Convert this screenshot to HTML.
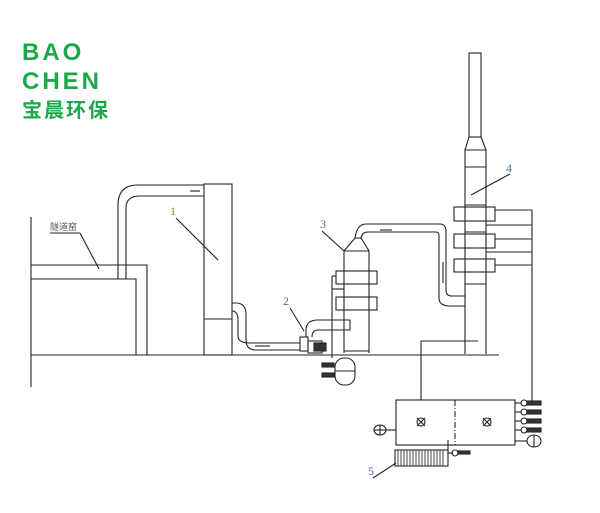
<!DOCTYPE html>
<html><head><meta charset="utf-8"><style>
body{margin:0;background:#fff;width:600px;height:513px;overflow:hidden;position:relative;font-family:"Liberation Sans","Noto Sans CJK SC",sans-serif}
.logo{position:absolute;left:22px;color:#1aa84a;font-weight:bold}
</style></head><body>
<div class="logo" style="top:41px;font-size:24px;line-height:24px;letter-spacing:3px">BAO</div>
<div class="logo" style="top:70px;font-size:24px;line-height:24px;letter-spacing:3px">CHEN</div>
<div class="logo" style="top:101px;font-size:20px;line-height:20px;letter-spacing:2px">宝晨环保</div>
<svg width="600" height="513" style="position:absolute;left:0;top:0" fill="none" stroke="#222" stroke-width="1.1">
<line x1="31" y1="217" x2="31" y2="387"/>
<line x1="31" y1="355" x2="499" y2="355"/>
<polyline points="31,265 147,265 147,355"/>
<polyline points="31,279 136,279 136,355"/>
<path d="M118,279 V205 Q118,185 138,185 H204"/>
<path d="M126,279 V208 Q126,196 140,196 H204"/>
<line x1="190" y1="191" x2="200" y2="191"/>
<rect x="204" y="184" width="28" height="171"/>
<line x1="204" y1="319" x2="232" y2="319"/>
<text x="170" y="215" font-size="12" fill="#b07a2a" stroke="none" font-family="Liberation Serif">1</text>
<line x1="176" y1="218" x2="218" y2="260"/>
<text x="50" y="230" font-size="9" fill="#555" stroke="none">隧道窑</text>
<line x1="50" y1="233" x2="80" y2="233"/>
<line x1="80" y1="233" x2="99" y2="269"/>
<path d="M232,303 H236 Q246,303 246,315 V340 Q246,350 256,350 H300"/>
<path d="M232,311 Q238,311 238,320 V336 Q238,343 250,343 H300"/>
<line x1="255" y1="346" x2="270" y2="346"/>
<rect x="300" y="337" width="8" height="14"/>
<rect x="308" y="341" width="14" height="12"/>
<rect x="314" y="343" width="12" height="8" fill="#333"/>
<path d="M306,337 V330 Q306,320 318,320 H350 V330 H318 Q312,330 312,337"/>
<text x="283" y="305" font-size="12" fill="#4a6fb0" stroke="none" font-family="Liberation Serif">2</text>
<line x1="290" y1="308" x2="304" y2="331"/>
<rect x="335" y="358" width="20" height="27" rx="9"/>
<line x1="335" y1="371" x2="355" y2="371"/>
<rect x="322" y="363" width="12" height="4" fill="#333"/>
<rect x="322" y="373" width="12" height="4" fill="#333"/>
<line x1="332" y1="276" x2="332" y2="358"/>
<line x1="332" y1="276" x2="336" y2="276"/>
<polyline points="344,353 344,251 355,238 361,238 369,251 369,353"/>
<line x1="344" y1="251" x2="369" y2="251"/>
<line x1="344" y1="351" x2="369" y2="351"/>
<rect x="336" y="271" width="41" height="13"/>
<rect x="336" y="297" width="41" height="13"/>
<line x1="332" y1="289" x2="344" y2="289"/>
<text x="320" y="228" font-size="12" fill="#4a6fb0" stroke="none" font-family="Liberation Serif">3</text>
<line x1="322" y1="231" x2="344" y2="251"/>
<path d="M355,238 Q357,224 366,224 H440 Q446,224 446,232 V290 Q446,296 452,296 H465"/>
<path d="M361,238 Q362,232 368,232 H436 Q439,232 439,236 V298 Q439,306 450,306 H465"/>
<line x1="380" y1="230" x2="392" y2="230"/>
<line x1="443" y1="262" x2="443" y2="283"/>
<rect x="469" y="53" width="12" height="84"/>
<polyline points="469,137 465,150 465,354"/>
<polyline points="481,137 486,150 486,354"/>
<line x1="465" y1="150" x2="486" y2="150"/>
<line x1="465" y1="167" x2="486" y2="167"/>
<line x1="465" y1="205" x2="486" y2="205"/>
<line x1="465" y1="232" x2="486" y2="232"/>
<line x1="465" y1="284" x2="486" y2="284"/>
<rect x="454" y="207" width="41" height="14"/>
<rect x="454" y="234" width="41" height="14"/>
<rect x="454" y="259" width="41" height="13"/>
<line x1="532" y1="210" x2="532" y2="403"/>
<line x1="495" y1="210" x2="532" y2="210"/>
<line x1="486" y1="225" x2="532" y2="225"/>
<line x1="495" y1="239" x2="532" y2="239"/>
<line x1="486" y1="252" x2="532" y2="252"/>
<line x1="495" y1="265" x2="532" y2="265"/>
<text x="506" y="172" font-size="12" fill="#4a6fb0" stroke="none" font-family="Liberation Serif">4</text>
<line x1="510" y1="174" x2="471" y2="195"/>
<polyline points="421,400 421,341 478,341"/>
<rect x="396" y="400" width="119" height="45"/>
<line x1="455" y1="400" x2="455" y2="445" stroke-dasharray="6,2,1,2"/>
<circle cx="421" cy="422" r="4"/><path d="M417,418 L425,426 M425,418 L417,426"/>
<circle cx="487" cy="422" r="4"/><path d="M483,418 L491,426 M491,418 L483,426"/>
<line x1="386" y1="430" x2="396" y2="430"/>
<ellipse cx="380" cy="430" rx="6" ry="5"/><line x1="374" y1="430" x2="386" y2="430"/><line x1="380" y1="425" x2="380" y2="435"/>
<g>
<line x1="515" y1="403" x2="521" y2="403"/><circle cx="524" cy="403" r="3"/><rect x="527" y="401" width="14" height="4" fill="#333"/>
<line x1="515" y1="412" x2="521" y2="412"/><circle cx="524" cy="412" r="3"/><rect x="527" y="410" width="14" height="4" fill="#333"/>
<line x1="515" y1="421" x2="521" y2="421"/><circle cx="524" cy="421" r="3"/><rect x="527" y="419" width="14" height="4" fill="#333"/>
<line x1="515" y1="430" x2="521" y2="430"/><circle cx="524" cy="430" r="3"/><rect x="527" y="428" width="14" height="4" fill="#333"/>
<line x1="515" y1="441" x2="527" y2="441"/><ellipse cx="534" cy="441" rx="7" ry="6"/><line x1="534" y1="435" x2="534" y2="447"/>
</g>
<rect x="395" y="450" width="53" height="16"/>
<path d="M398,450V466M401,450V466M404,450V466M407,450V466M410,450V466M413,450V466M416,450V466M419,450V466M422,450V466M425,450V466M428,450V466M431,450V466M434,450V466M437,450V466M440,450V466M443,450V466" stroke="#555"/>
<line x1="448" y1="453" x2="448" y2="440"/>
<line x1="448" y1="453" x2="453" y2="453"/><circle cx="455" cy="453" r="3"/><rect x="458" y="451" width="12" height="3" fill="#333"/>
<text x="368" y="475" font-size="12" fill="#4a6fb0" stroke="none" font-family="Liberation Serif">5</text>
<line x1="373" y1="478" x2="396" y2="463"/>
</svg>
</body></html>
